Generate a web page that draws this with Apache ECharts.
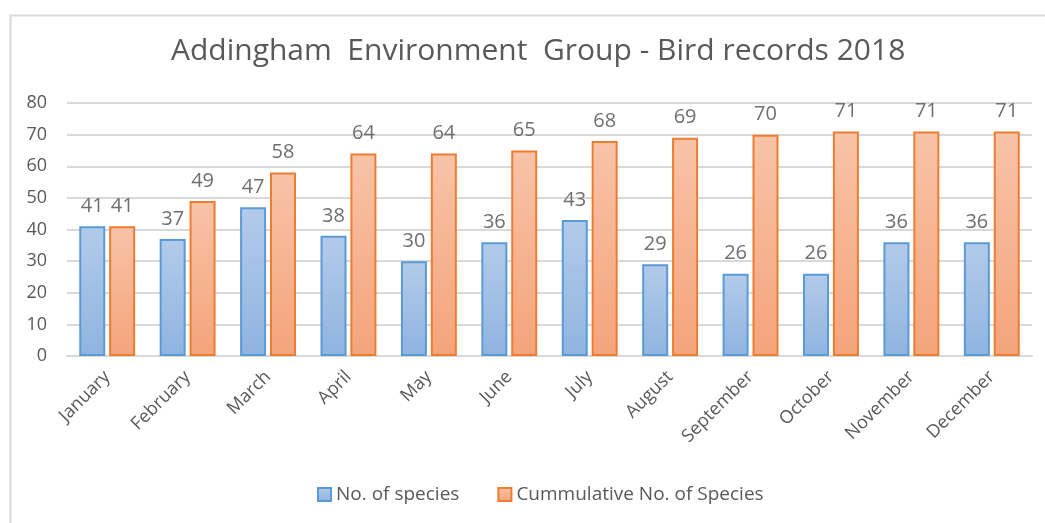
<!DOCTYPE html>
<html>
<head>
<meta charset="utf-8">
<script src="https://cdn.jsdelivr.net/npm/echarts@6/dist/echarts.min.js"></script>
<style>
  html, body { margin: 0; padding: 0; background: #fff; }
  #main { width: 1045px; height: 523px; }
</style>
</head>
<body>
<div id="main"></div>
<script>
// months along the x axis
const months = ['January', 'February', 'March', 'April', 'May', 'June',
    'July', 'August', 'September', 'October', 'November', 'December'];
// species seen each month
const speciesCount = [41, 37, 47, 38, 30, 36, 43, 29, 26, 26, 36, 36];
// running total of species for the year
const cumulativeCount = [41, 49, 58, 64, 64, 65, 68, 69, 70, 71, 71, 71];
const yTicks = [0, 10, 20, 30, 40, 50, 60, 70, 80];

const chart = echarts.init(document.getElementById('main'), null, { renderer: 'canvas' });

const fontFamily = '"Open Sans", "Noto Sans", sans-serif';
const textGray = '#595959';

function grad(top, bottom) {
    return new echarts.graphic.LinearGradient(0, 0, 0, 1, [
        { offset: 0, color: top },
        { offset: 1, color: bottom }
    ]);
}

const option = {
    backgroundColor: '#fff',
    animation: false,
    textStyle: { fontFamily: fontFamily },
    graphic: [{
        type: 'rect',
        left: 8,
        top: 13,
        shape: { width: 1100, height: 600 },
        style: { fill: 'none', stroke: '#d9d9d9', lineWidth: 2 },
        silent: true
    }],
    title: {
        text: 'Addingham  Environment  Group - Bird records 2018',
        left: 166,
        top: 31,
        textStyle: {
            fontFamily: fontFamily,
            fontSize: 30,
            fontWeight: 'normal',
            color: textGray
        }
    },
    legend: {
        bottom: 14,
        left: 312,
        itemWidth: 13,
        itemHeight: 13,
        itemGap: 38,
        itemTextGap: 6,
        icon: 'rect',
        textStyle: { fontSize: 19, color: textGray, fontFamily: fontFamily },
        data: ['No. of species', 'Cummulative No. of Species']
    },
    grid: {
        left: 67,
        right: 13,
        top: 103,
        bottom: 167
    },
    xAxis: {
        type: 'category',
        data: months,
        axisLine: { lineStyle: { color: '#d9d9d9', width: 2 } },
        axisTick: { show: false },
        axisLabel: {
            rotate: 45,
            interval: 0,
            margin: 18,
            fontSize: 18,
            color: textGray,
            fontFamily: fontFamily
        }
    },
    yAxis: {
        type: 'value',
        min: yTicks[0],
        max: yTicks[yTicks.length - 1],
        interval: 10,
        axisLine: { show: false },
        axisTick: { show: false },
        splitLine: { lineStyle: { color: '#d9d9d9', width: 2 } },
        axisLabel: {
            margin: 20,
            fontSize: 18,
            color: textGray,
            fontFamily: fontFamily
        }
    },
    series: [{
        name: 'No. of species',
        type: 'bar',
        data: speciesCount,
        barWidth: 26,
        barGap: '15%',
        itemStyle: {
            color: grad('#b3cbea', '#8fb4e0'),
            borderColor: '#5b9bd5',
            borderWidth: 2
        },
        label: {
            show: true,
            position: 'top',
            distance: 10,
            fontSize: 20,
            color: '#6f6f6f',
            fontFamily: fontFamily
        }
    }, {
        name: 'Cummulative No. of Species',
        type: 'bar',
        data: cumulativeCount,
        barWidth: 26,
        itemStyle: {
            color: grad('#f8c3a8', '#f4a47b'),
            borderColor: '#ed7d31',
            borderWidth: 2
        },
        label: {
            show: true,
            position: 'top',
            distance: 10,
            fontSize: 20,
            color: '#6f6f6f',
            fontFamily: fontFamily
        }
    }]
};

chart.setOption(option);
</script>
</body>
</html>
